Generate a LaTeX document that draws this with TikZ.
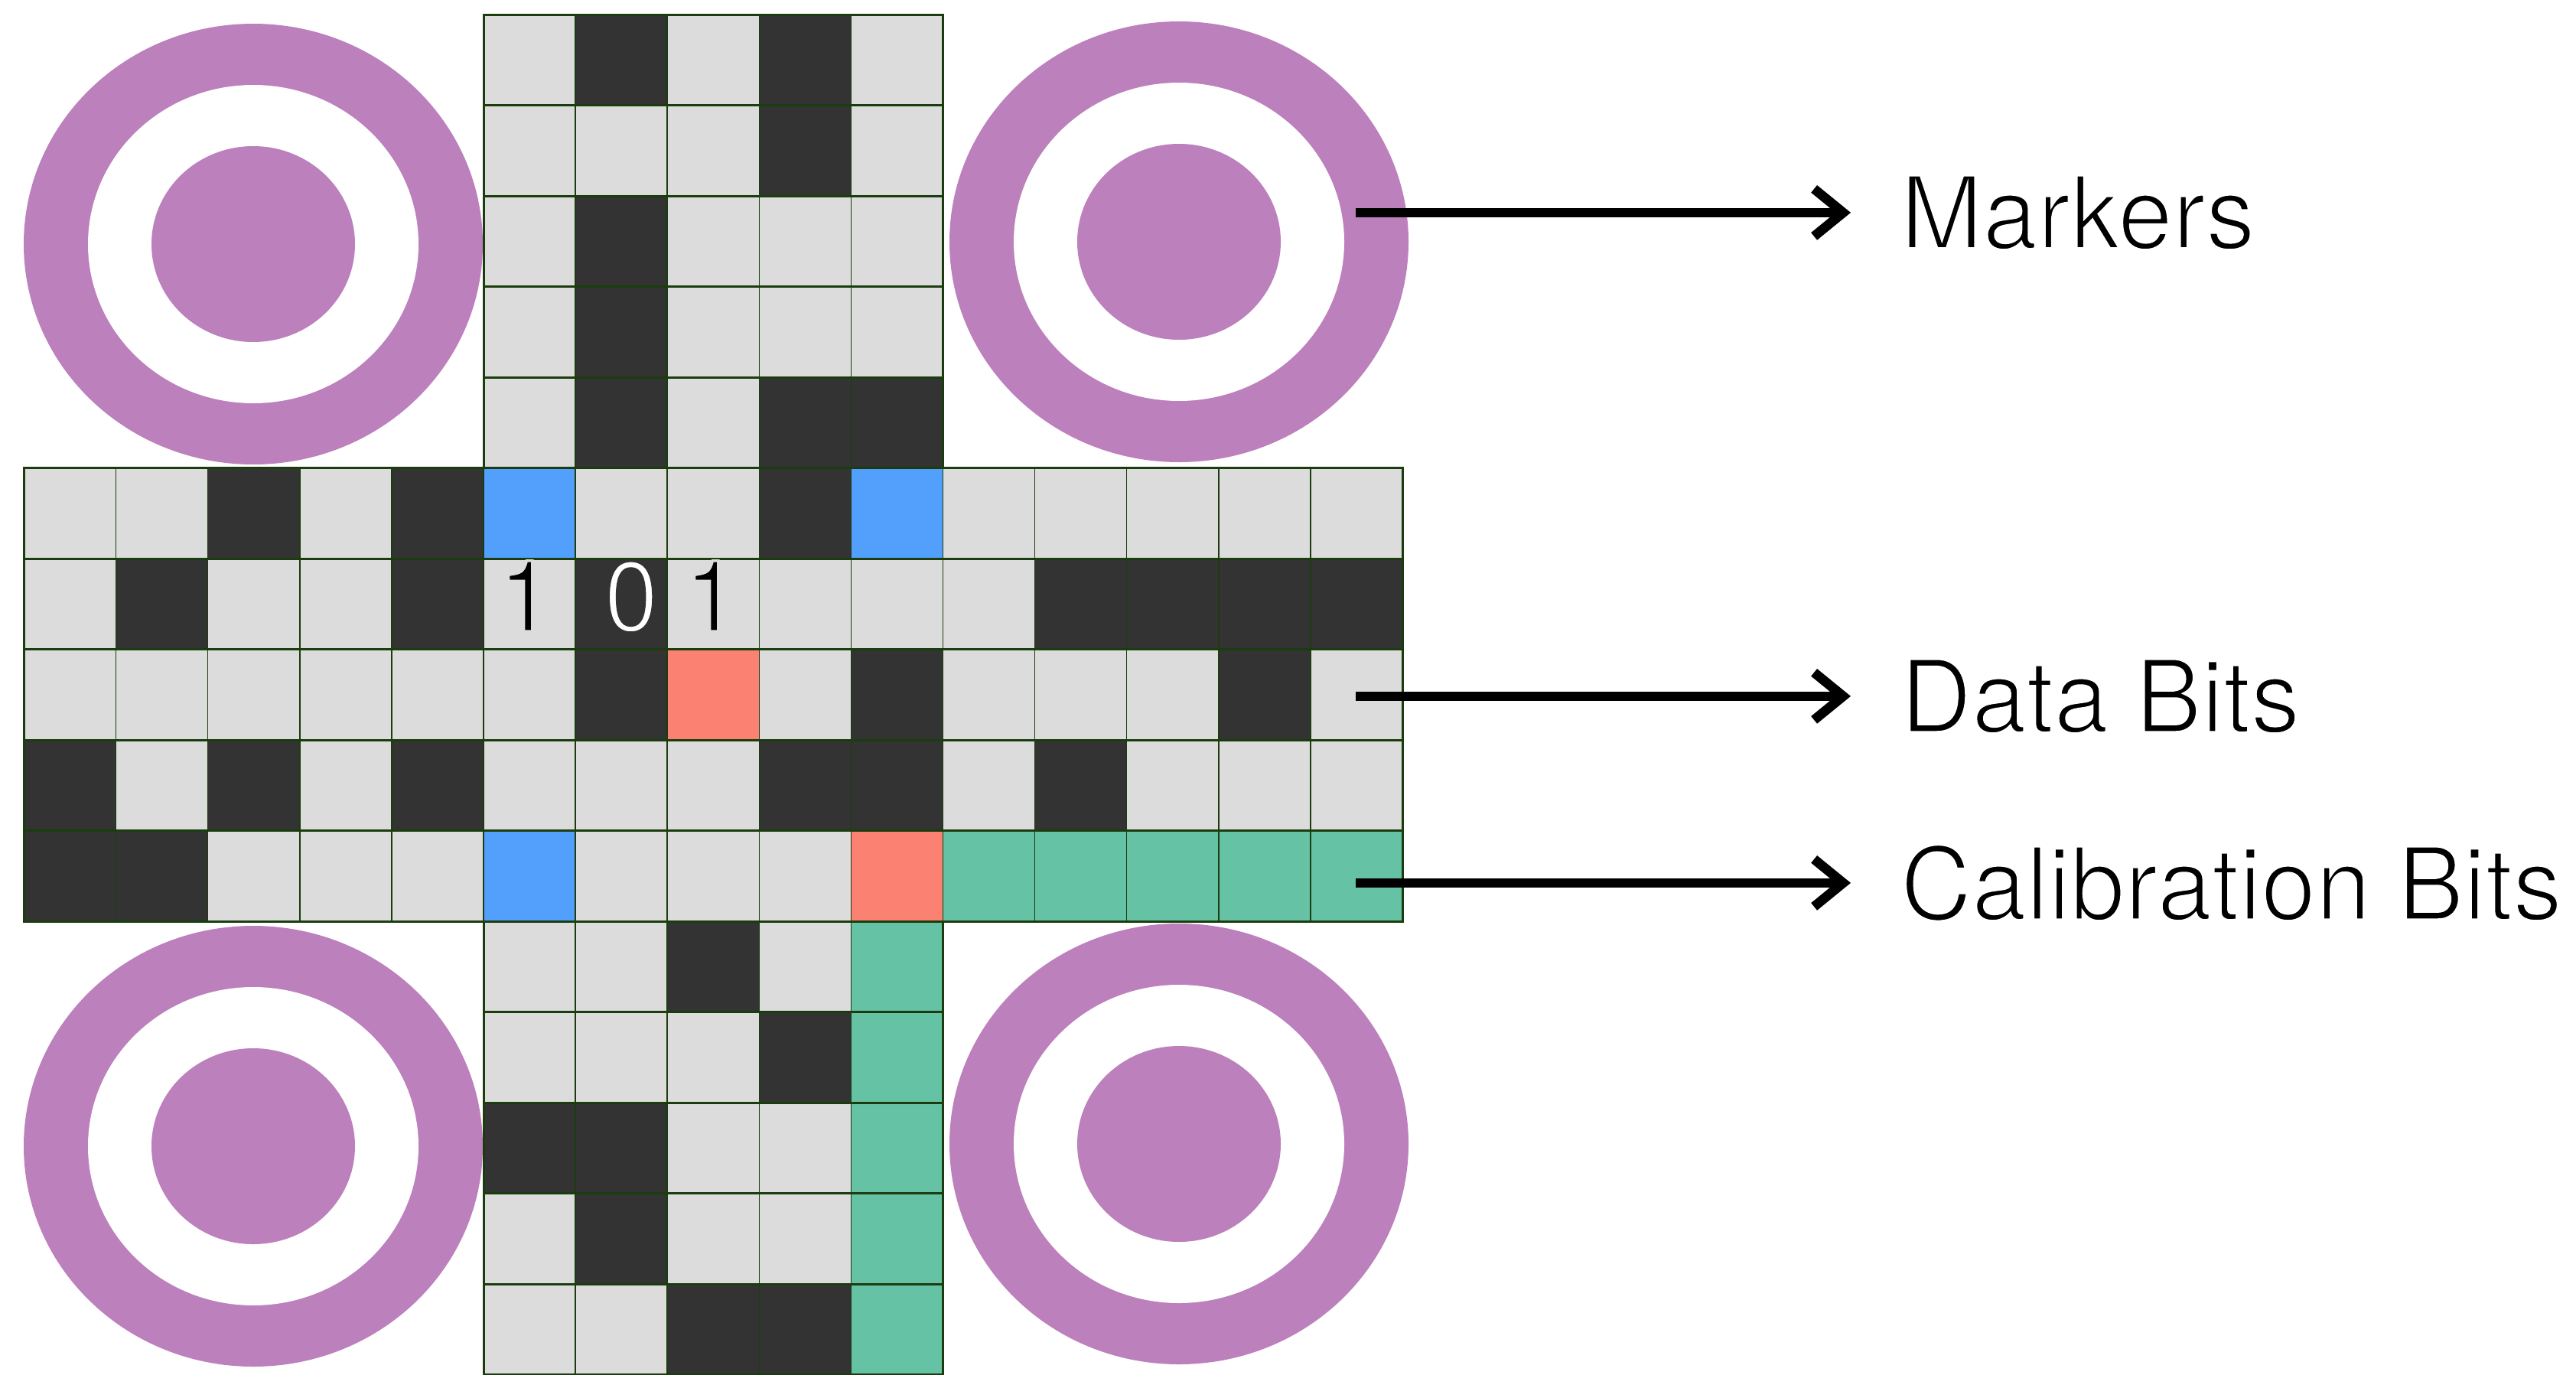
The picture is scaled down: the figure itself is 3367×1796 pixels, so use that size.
\documentclass[tikz,border=0pt]{standalone}
\usepackage{fontspec}
\setmainfont{TeX Gyre Heros}[FakeStretch=0.975]
\usetikzlibrary{arrows.meta}
\definecolor{cellL}{HTML}{DCDCDC}
\definecolor{cellD}{HTML}{333333}
\definecolor{cellB}{HTML}{529FFC}
\definecolor{cellS}{HTML}{FB8172}
\definecolor{cellG}{HTML}{66C2A5}
\definecolor{markerpurple}{HTML}{BC80BD}
\definecolor{gridgreen}{HTML}{1B3D0E}
% thin the glyphs by stroking their outline in the background colour
\newcommand\thintxt[2]{\special{pdf:literal direct 2 Tr #1 3.5 w}#2\special{pdf:literal direct 0 Tr}}
\begin{document}
\begin{tikzpicture}[x=1pt,y=-1pt,
  cellline/.style={draw=gridgreen,line width=1.5pt},
  rowline/.style={draw=gridgreen,line width=3pt},
  ring/.style={fill=markerpurple},
  hole/.style={fill=white},
  lbl/.style={inner sep=0pt, anchor=base west, font=\fontsize{132}{150}\selectfont},
  bit/.style={inner sep=0pt, anchor=base, font=\fontsize{130}{150}\selectfont},
  arr/.style={line width=12.5pt, -{Straight Barb[length=38pt,width=62pt]}, shorten >=65pt}
]
\useasboundingbox (0,0) rectangle (3367,1796);
\fill[white] (0,0) rectangle (3367,1796);

% markers
\foreach \cx/\cy in {331/319, 1541/316, 331/1498, 1541/1495}{
  \fill[ring] (\cx,\cy) ellipse [x radius=300pt, y radius=288pt];
  \fill[hole] (\cx,\cy) ellipse [x radius=216pt, y radius=208pt];
  \fill[ring] (\cx,\cy) ellipse [x radius=133pt, y radius=128pt];
}

% cells
\foreach \r/\s/\l in {
  0/5/{L,D,L,D,L},
  1/5/{L,L,L,D,L},
  2/5/{L,D,L,L,L},
  3/5/{L,D,L,L,L},
  4/5/{L,D,L,D,D},
  5/0/{L,L,D,L,D,B,L,L,D,B,L,L,L,L,L},
  6/0/{L,D,L,L,D,L,D,L,L,L,L,D,D,D,D},
  7/0/{L,L,L,L,L,L,D,S,L,D,L,L,L,D,L},
  8/0/{D,L,D,L,D,L,L,L,D,D,L,D,L,L,L},
  9/0/{D,D,L,L,L,B,L,L,L,S,G,G,G,G,G},
  10/5/{L,L,D,L,G},
  11/5/{L,L,L,D,G},
  12/5/{D,D,L,L,G},
  13/5/{L,D,L,L,G},
  14/5/{L,L,D,D,G}}{
  \foreach \c [count=\k from \s] in \l {
    \path[fill=cell\c, cellline] ({31.5+120.1*\k},{19+118.5*\r}) rectangle ++(120.1,118.5);
  }
}

% row lines
\foreach \i in {0,...,5} \draw[rowline] (632,{19+118.5*\i}) -- (1232.5,{19+118.5*\i});
\foreach \i in {5,...,10} \draw[rowline] (31.5,{19+118.5*\i}) -- (1833,{19+118.5*\i});
\foreach \i in {10,...,15} \draw[rowline] (632,{19+118.5*\i}) -- (1232.5,{19+118.5*\i});
\draw[rowline] (632,19) rectangle (1232.5,611.5);
\draw[rowline] (31.5,611.5) rectangle (1833,1204);
\draw[rowline] (632,1204) rectangle (1232.5,1796.5);

% bits
\node[bit] (b1) at (687,825) {\thintxt{0.863 G}{1}};
\node[bit,text=white] (b0) at (825,825) {\thintxt{0.2 G}{0}};
\node[bit] (b2) at (930,825) {\thintxt{0.863 G}{1}};

% labels
\node[lbl] (mk) at (2484,325) {\thintxt{1 G}{Markers}};
\node[lbl] (db) at (2484,957) {\thintxt{1 G}{Data Bits}};
\node[lbl] (cb) at (2484,1202) {\thintxt{1 G}{Calibration Bits}};
\coordinate (ax) at (1772,0);
\draw[arr] (ax |- mk.west) -- (mk.west);
\draw[arr] (ax |- db.west) -- (db.west);
\draw[arr] (ax |- cb.west) -- (cb.west);
\end{tikzpicture}
\end{document}
